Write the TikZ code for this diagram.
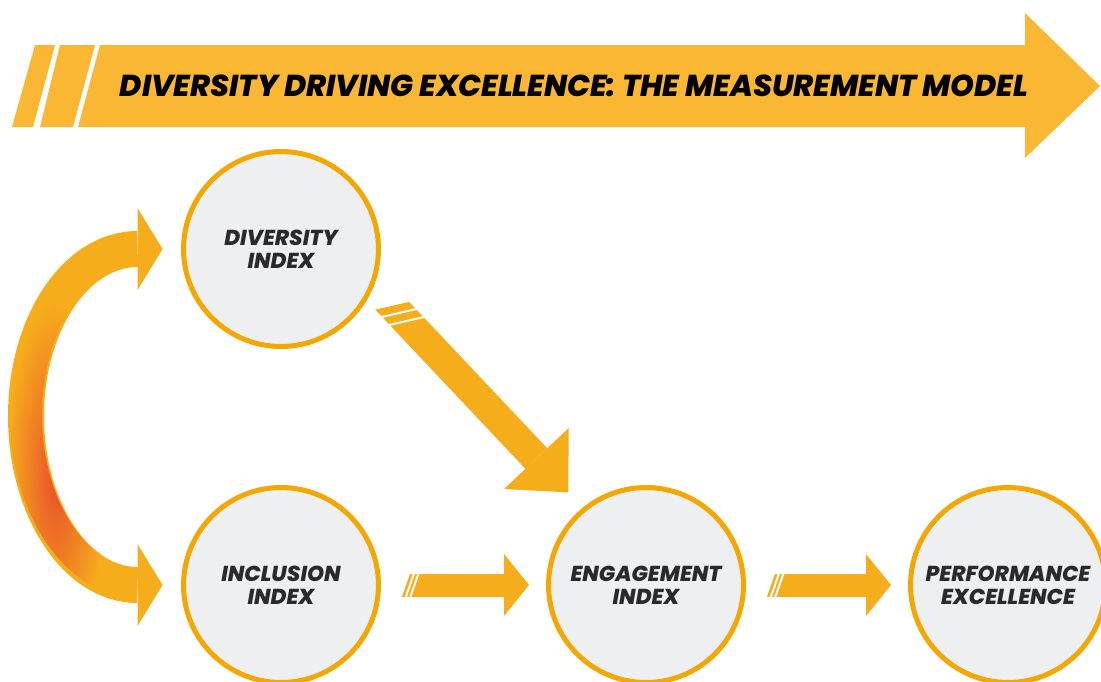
\documentclass[tikz,border=0pt]{standalone}
\usepackage{fontspec}
\newfontfamily\pop{Poppins}[BoldItalicFont={Poppins ExtraBold Italic}]
\usetikzlibrary{arrows.meta}

\definecolor{bannerorange}{HTML}{F9B734}
\definecolor{arroworange}{HTML}{F6AD1C}
\definecolor{ringorange}{HTML}{F4A700}
\definecolor{discgray}{HTML}{EEEFF1}
\definecolor{glowred}{HTML}{E8502A}
\definecolor{inkgray}{HTML}{2A2A2C}

\begin{document}
\begin{tikzpicture}[x=0.02cm, y=-0.02cm,
  idx/.style={circle, draw=ringorange, line width=0.1cm, fill=discgray, minimum size=3.9cm, inner sep=0pt, align=center, text=inkgray, font=\pop\bfseries\itshape\fontsize{12.3}{13}\selectfont},
  fat/.style={arroworange, line width=0.46cm, -{Triangle[length=0.5cm, width=1.24cm, line width=0pt]}},
  diag/.style={arroworange, line width=0.6cm, -{Triangle[length=0.93cm, width=1.78cm, line width=0pt]}},
  loopback/.style={arroworange, line width=0.72cm, {Triangle[length=0.5cm, width=1.64cm, line width=0pt]}-{Triangle[length=0.5cm, width=1.64cm, line width=0pt]}},
  cut/.style={white, line width=0.04cm}]
\useasboundingbox (0,0) rectangle (1101,681);

% banner
\fill[bannerorange] (100,45) -- (1025,45) -- (1025,13) -- (1100,86) -- (1025,158) -- (1025,127) -- (78,127) -- cycle;
\fill[bannerorange] (35,45) -- (55,45) -- (33,127) -- (12,127) -- cycle;
\fill[bannerorange] (60,45) -- (95,45) -- (73,127) -- (40,127) -- cycle;
\node[font=\pop\bfseries\itshape\fontsize{17.2}{20}\selectfont] (title) at (574,86) {DIVERSITY DRIVING EXCELLENCE: THE MEASUREMENT MODEL};

\node[idx] (div) at (281,249) {DIVERSITY\\INDEX};
\node[idx] (incl) at (281,585) {INCLUSION\\INDEX};
\node[idx] (eng) at (646,585) {ENGAGEMENT\\INDEX};
\node[idx] (perf) at (1008,585) {PERFORMANCE\\EXCELLENCE};

% loop between diversity and inclusion
\coordinate (ct) at ([xshift=-0.37cm]div.west);
\coordinate (cb) at ([xshift=-0.37cm]incl.west);
\coordinate (cl) at (26,416);
\draw[loopback] (ct) .. controls +(-87,0) and +(0,-92) .. (cl) .. controls +(0,92) and +(-87,0) .. (cb);
\begin{scope}[even odd rule]
\clip (138,415) ellipse (2.56cm and 3.66cm) (138,415) ellipse (1.92cm and 3.02cm);
\shade[inner color=glowred, outer color=arroworange] (56,476) ellipse (1.0cm and 3.5cm);
\end{scope}

% diversity -> engagement
\coordinate (ds) at ([shift={(-27:0.5cm)}]div.-27);
\coordinate (dt) at ([shift={(130:0.42cm)}]eng.130);
\begin{scope}[shift={(ds)}]
\coordinate (ds0) at (-20,-21);
\clip (-200,45.7) -- (200,-45.7) -- (200,400) -- (-200,400) -- cycle;
\draw[diag] (ds0) -- (dt);
\draw[cut] (-17.6,12.8) -- (31.2,1.6);
\draw[cut] (-10.1,20.8) -- (38.7,9.6);
\end{scope}

% inclusion -> engagement
\coordinate (ie) at ([xshift=0.34cm]incl.east);
\coordinate (ei) at ([xshift=-0.34cm]eng.west);
\draw[fat] (ie) -- (ei);
\begin{scope}[shift={(ie)}]
\fill[white] (-3,-14) -- (12.9,-14) -- (3.1,14) -- (-3,14) -- cycle;
\draw[cut] (16.5,-13) -- (7.5,13);
\draw[cut] (21,-13) -- (12,13);
\end{scope}

% engagement -> performance
\coordinate (ep) at ([xshift=0.34cm]eng.east);
\coordinate (pe) at ([xshift=-0.34cm]perf.west);
\draw[fat] (ep) -- (pe);
\begin{scope}[shift={(ep)}]
\fill[white] (-3,-14) -- (12.9,-14) -- (3.1,14) -- (-3,14) -- cycle;
\draw[cut] (16.5,-13) -- (7.5,13);
\draw[cut] (21,-13) -- (12,13);
\end{scope}
\end{tikzpicture}
\end{document}
